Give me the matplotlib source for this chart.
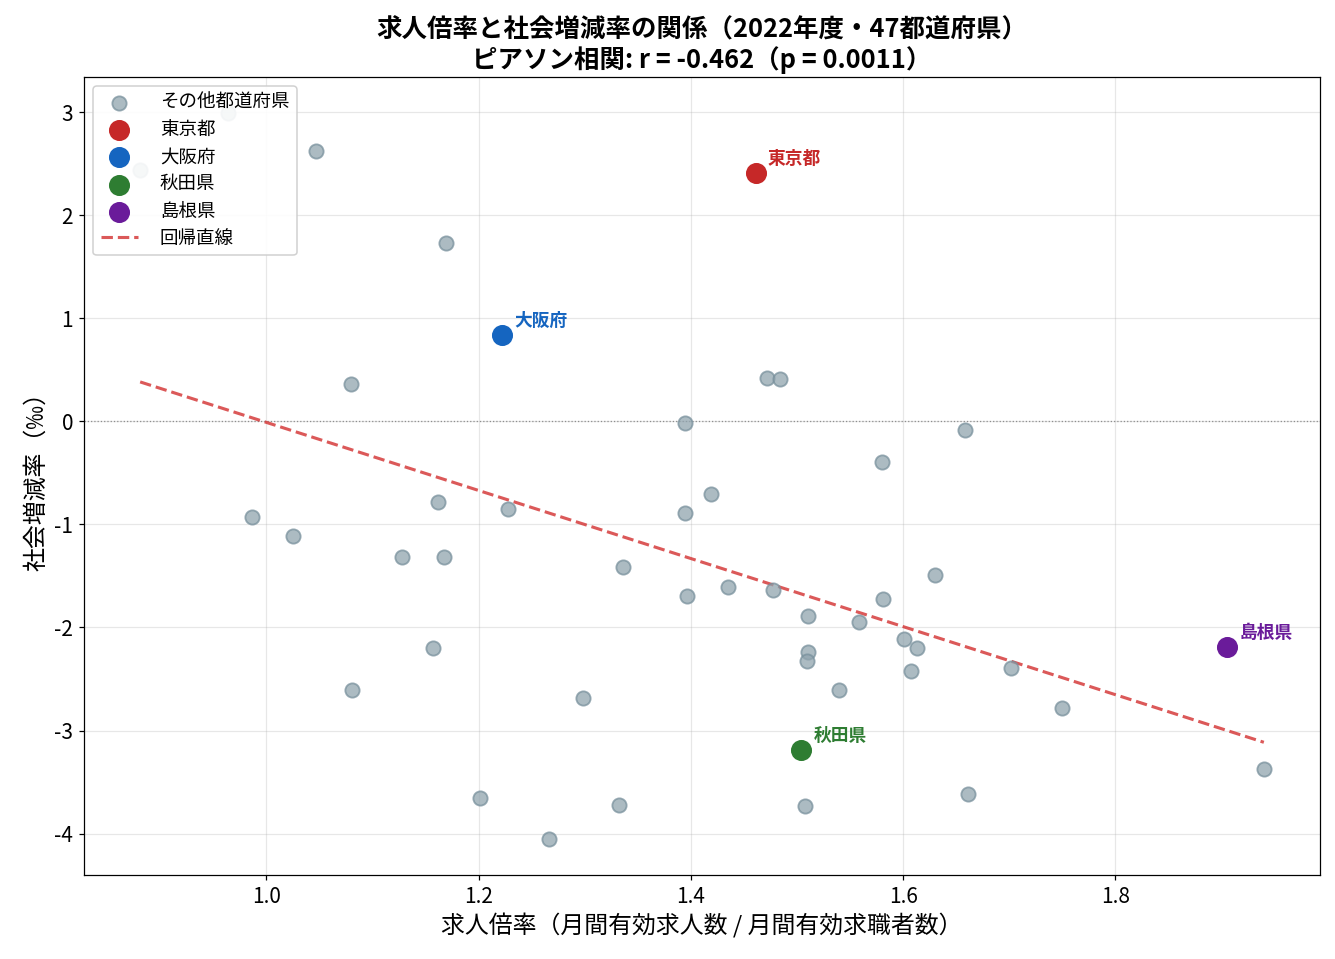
import numpy as np
import matplotlib.pyplot as plt

plt.rcParams['font.family'] = ['Noto Sans CJK JP', 'DejaVu Sans']
plt.rcParams['axes.unicode_minus'] = False

# 他の都道府県 (求人倍率, 社会増減率)
other_x = [0.881, 0.964, 1.047, 1.169, 1.080, 1.472, 1.484, 1.394, 1.658, 1.580,
           1.419, 1.394, 0.986, 1.025, 1.162, 1.228, 1.128, 1.167, 1.336, 1.630,
           1.396, 1.435, 1.477, 1.581, 1.510, 1.558, 1.601, 1.613, 1.510, 1.509,
           1.607, 1.702, 1.157, 1.081, 1.298, 1.540, 1.750, 1.940, 1.661, 1.201,
           1.332, 1.508, 1.266]
other_y = [2.44, 2.99, 2.62, 1.73, 0.36, 0.42, 0.41, -0.02, -0.08, -0.39,
           -0.70, -0.89, -0.93, -1.11, -0.78, -0.85, -1.32, -1.32, -1.41, -1.49,
           -1.69, -1.61, -1.64, -1.72, -1.89, -1.95, -2.11, -2.20, -2.24, -2.33,
           -2.42, -2.39, -2.20, -2.61, -2.68, -2.61, -2.78, -3.37, -3.62, -3.65,
           -3.72, -3.73, -4.05]

hl_names = ['東京都', '大阪府', '秋田県', '島根県']
hl_x = [1.461, 1.222, 1.504, 1.905]
hl_y = [2.41, 0.84, -3.19, -2.19]
hl_colors = ['#C62828', '#1565C0', '#2E7D32', '#6A1B9A']

all_x = np.array(other_x + hl_x)
all_y = np.array(other_y + hl_y)

fig = plt.figure(figsize=(1335 / 111, 959 / 111), dpi=111)
ax = fig.add_axes([0.0629, 0.0876, 0.9259, 0.8321])

ax.scatter(other_x, other_y, s=85, color='#90A4AE', alpha=0.75,
           edgecolors='#78909C', linewidths=1.2, label='その他都道府県', zorder=3)

for name, x, y, c in zip(hl_names, hl_x, hl_y, hl_colors):
    ax.scatter([x], [y], s=160, color=c, label=name, zorder=4)
    ax.annotate(name, (x, y), xytext=(8, 6), textcoords='offset points',
                fontsize=11.5, fontweight='bold', color=c)

slope, intercept = np.polyfit(all_x, all_y, 1)
xs = np.array([all_x.min(), all_x.max()])
ax.plot(xs, slope * xs + intercept, '--', color='#D32F2F', alpha=0.8,
        linewidth=2, label='回帰直線', zorder=2)

ax.axhline(0, color='gray', linestyle=':', linewidth=0.8, zorder=1)

ax.set_xlabel('求人倍率（月間有効求人数 / 月間有効求職者数）', fontsize=15.5)
ax.set_ylabel('社会増減率（‰）', fontsize=15.5)
ax.set_title('求人倍率と社会増減率の関係（2022年度・47都道府県）\n'
             'ピアソン相関: r = -0.462（p = 0.0011）',
             fontsize=16.5, fontweight='bold', linespacing=1.1)
ax.tick_params(labelsize=13.5)
ax.grid(True, alpha=0.3)
ax.legend(loc='upper left', fontsize=12, framealpha=0.9, handletextpad=1.2)

fig.savefig('out.png', dpi=111)
